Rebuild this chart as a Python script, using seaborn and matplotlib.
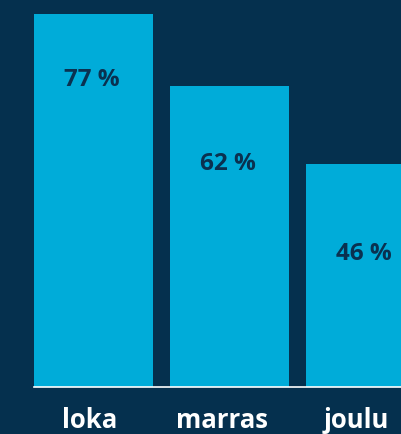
import matplotlib
matplotlib.use("Agg")
import matplotlib.pyplot as plt
import seaborn as sns
import pandas as pd

months = ["loka", "marras", "joulu"]
shares = [77, 62, 46]

BG = "#05304e"
BAR = "#00acd9"
DARK = "#0a3150"

sns.set_theme(style="white")
plt.rcParams["font.family"] = ["Open Sans", "DejaVu Sans"]

df = pd.DataFrame({"month": months, "share": shares})

fig = plt.figure(figsize=(4.01, 4.35), dpi=100, facecolor=BG)
ax = fig.add_axes([0, 47 / 435, 1, 388 / 435])
ax.set_facecolor(BG)

sns.barplot(data=df, x="month", y="share", color=BAR, width=0.875,
            saturation=1, linewidth=0, ax=ax)

ax.set_xlim(-93.5 / 136, (401 - 93.5) / 136)
ax.set_ylim(0, 80)

# value labels sit inside each bar, lower for shorter bars
label_drop = [13.4, 15.9, 18.4]
for i, (v, d) in enumerate(zip(shares, label_drop)):
    ax.text(i - 0.01, v - d, f"{v} %", ha="center", va="center",
            color=DARK, fontsize=17.5, fontweight="bold")

for s in ["top", "left", "right"]:
    ax.spines[s].set_visible(False)
ax.spines["bottom"].set_color("white")
ax.spines["bottom"].set_linewidth(1.2)
ax.spines["bottom"].set_bounds(-0.44, 3)

ax.set_yticks([])
ax.set_xticks([])
ax.set_xlabel("")
ax.set_ylabel("")

tick_shift = [0.03, 0.055, 0.07]
for i, (m, s) in enumerate(zip(months, tick_shift)):
    ax.text(i - s, -6.7, m, ha="center", va="center", color="white",
            fontsize=18.5, fontweight="bold", clip_on=False)

fig.savefig("out.png", dpi=100, facecolor=BG)
